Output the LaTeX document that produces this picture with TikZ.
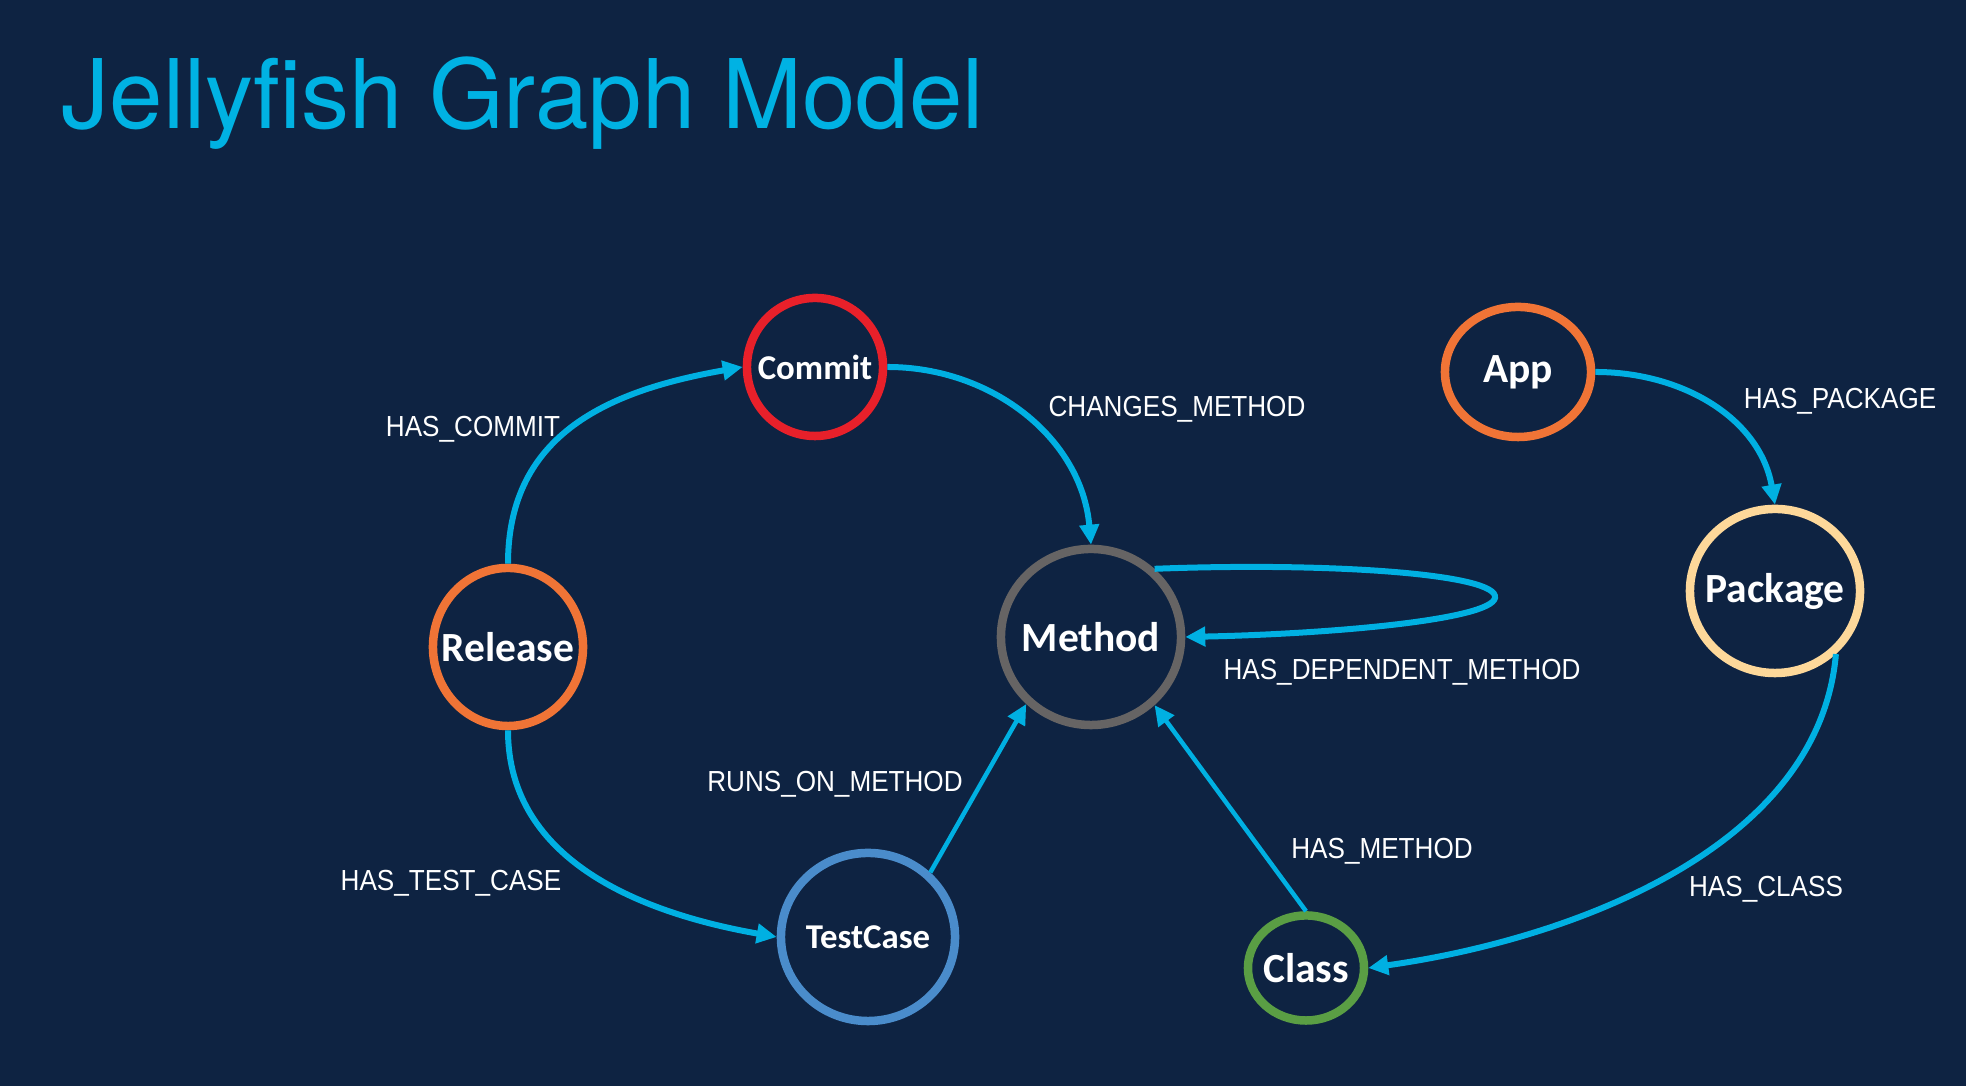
\documentclass[tikz,border=0pt]{standalone}
\usepackage{fontspec}
\usepackage{xcolor}
\usepackage{tikz}
\usetikzlibrary{arrows.meta,shapes.geometric}
\setmainfont{TeX Gyre Heros}
\newfontfamily\nodefont{Carlito}
\newfontfamily\lblfont[FakeStretch=0.9]{Liberation Sans}

\definecolor{bgnavy}{RGB}{14,35,66}
\definecolor{linkcyan}{RGB}{0,176,226}
\definecolor{titlecyan}{RGB}{0,178,227}
\definecolor{commitred}{RGB}{232,32,42}
\definecolor{relorange}{RGB}{240,116,54}
\definecolor{methodgray}{RGB}{102,100,100}
\definecolor{testblue}{RGB}{74,140,203}
\definecolor{classgreen}{RGB}{90,158,68}
\definecolor{pkgpeach}{RGB}{253,216,154}

% text of zero width, so the ellipse keeps its given size
\newcommand{\enttext}[1]{\makebox[0pt]{#1}}

\begin{document}
\begin{tikzpicture}[x=0.01cm, y=0.01cm,
  ent/.style={ellipse, draw, line width=0.085cm, inner sep=0pt, text=white,
    font=\nodefont\bfseries\fontsize{11.8pt}{13pt}\selectfont},
  entsmall/.style={ent, font=\nodefont\bfseries\fontsize{9.9pt}{11pt}\selectfont},
  link/.style={draw=linkcyan, line width=0.06cm,
    -{Triangle[length=0.2cm,width=0.19cm]}},
  thinlink/.style={link, line width=0.045cm},
  lbl/.style={text=white, inner sep=0pt,
    font=\lblfont\fontsize{8.25pt}{10pt}\selectfont}]
  % background
  \fill[bgnavy] (0,0) rectangle (1966,1086);
  \useasboundingbox (0,0) rectangle (1966,1086);
  \node[anchor=base west, text=titlecyan, inner sep=0pt,
        font=\fontsize{27.3pt}{32pt}\selectfont] (title) at (61,957) {Jellyfish Graph Model};

  % entities
  \node[entsmall, draw=commitred, minimum width=1.36cm, minimum height=1.38cm] (commit) at (815,719) {\enttext{Commit}};
  \node[ent, draw=relorange, minimum width=1.50cm, minimum height=1.58cm] (release) at (508,439) {\enttext{Release}};
  \node[ent, draw=methodgray, minimum width=1.80cm, minimum height=1.76cm] (method) at (1091,449) {\enttext{Method}};
  \node[entsmall, draw=testblue, minimum width=1.74cm, minimum height=1.68cm] (testcase) at (868,149) {\enttext{TestCase}};
  \node[ent, draw=classgreen, minimum width=1.16cm, minimum height=1.05cm] (class) at (1306,118) {\enttext{Class}};
  \node[ent, draw=relorange, minimum width=1.46cm, minimum height=1.30cm] (app) at (1518,714) {\enttext{App}};
  \node[ent, draw=pkgpeach, minimum width=1.70cm, minimum height=1.64cm] (package) at (1775,495) {\enttext{Package}};

  % relationships
  \draw[link] (release.north) to[out=90,in=190,looseness=1.1] (commit.west);
  \draw[link] (release.south) to[out=-90,in=170] (testcase.west);
  \draw[link] (commit.east) to[out=0,in=95] (method.north);
  \draw[link] (method.47) .. controls (1330,524) and (1500,512) .. (1495,488)
        .. controls (1490,466) and (1330,452) .. (method.east);
  \draw[thinlink] (testcase.46) -- (method.226);
  \draw[thinlink] (class.north) -- (method.313);
  \draw[link] (app.east) to[out=0,in=100] (package.north);
  \draw[link] (package.-46) to[out=-95,in=8,looseness=0.9] (class.east);

  % labels
  \node[lbl] (lcommit) at (473,657) {HAS\_COMMIT};
  \node[lbl] (lchanges) at (1177,677) {CHANGES\_METHOD};
  \node[lbl] (lpackage) at (1840,685) {HAS\_PACKAGE};
  \node[lbl] (ldepend) at (1402,414) {HAS\_DEPENDENT\_METHOD};
  \node[lbl] (lruns) at (835,302) {RUNS\_ON\_METHOD};
  \node[lbl] (ltest) at (451,203) {HAS\_TEST\_CASE};
  \node[lbl] (lmethod) at (1382,235) {HAS\_METHOD};
  \node[lbl] (lclass) at (1766,197) {HAS\_CLASS};
\end{tikzpicture}
\end{document}
